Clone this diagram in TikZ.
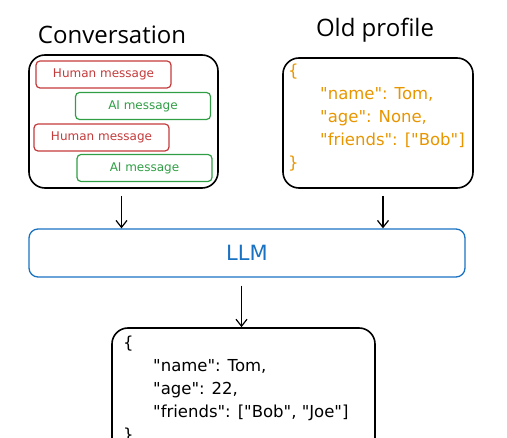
\documentclass[tikz,border=0pt]{standalone}
\usepackage{fontspec}
\setmainfont{Open Sans}
\newfontfamily\handfont{DejaVu Sans}
\usepackage{xcolor}
\usepackage{tikz}
\usetikzlibrary{arrows.meta}
\definecolor{humanred}{RGB}{196,58,58}
\definecolor{aigreen}{RGB}{47,158,68}
\definecolor{jsonorange}{RGB}{232,150,0}
\definecolor{llmblue}{RGB}{25,113,194}

\begin{document}
\begin{tikzpicture}[x=1pt,y=-1pt,
  box/.style={draw, line width=1.6pt, rounded corners=16pt},
  msg/.style={draw, line width=1.2pt, rounded corners=4pt, minimum width=135pt, minimum height=27pt, font=\handfont\fontsize{12}{14}\selectfont},
  human/.style={msg, humanred, text=humanred},
  ai/.style={msg, aigreen, text=aigreen},
  title/.style={font=\fontsize{24}{28}\selectfont},
  json/.style={align=left, anchor=north west, inner sep=0pt, font=\handfont\fontsize{16.5}{23}\selectfont},
  flow/.style={-{Straight Barb[length=7pt,width=11pt]}, line width=1.2pt}]
\useasboundingbox (0,0) rectangle (507,438);
\clip (0,0) rectangle (507,438);

% titles
\node[title] (convtitle) at (112,35) {Conversation};
\node[title] (oldtitle) at (375,30) {Old profile};

% conversation
\node[box, minimum width=189pt, minimum height=133pt] (conv) at (123.5,121.5) {};
\node[human] (human1) at (103.5,74.5) {Human message};
\node[ai] (ai1) at (143,106) {AI message};
\node[human] (human2) at (101.5,137.5) {Human message};
\node[ai] (ai2) at (144.5,168) {AI message};

% old profile
\node[box, minimum width=190pt, minimum height=130pt] (old) at (378,123) {};
\node[json, text=jsonorange] (oldjson) at (288,64) {\{\\
\hspace*{32pt}"name": Tom,\\
\hspace*{32pt}"age": None,\\
\hspace*{32pt}"friends": ["Bob"]\\
\}};

% model
\node[draw=llmblue, line width=1.3pt, rounded corners=9pt, minimum width=436pt, minimum height=48pt,
  text=llmblue, font=\handfont\fontsize{21}{24}\selectfont] (llm) at (247,253) {LLM};

% new profile
\node[box, minimum width=263pt, minimum height=130pt] (new) at (243.5,393) {};
\node[json] (newjson) at (123,336) {\{\\
\hspace*{30pt}"name": Tom,\\
\hspace*{30pt}"age": 22,\\
\hspace*{30pt}"friends": ["Bob", "Joe"]\\
\}};

\draw[flow, shorten <=7pt] ([xshift=-2pt]conv.south) -- ([xshift=-2pt]conv.south |- llm.north);
\draw[flow, shorten <=7pt] ([xshift=5pt]old.south) -- ([xshift=5pt]old.south |- llm.north);
\draw[flow, shorten <=8pt] ([xshift=-2pt]llm.south -| new.north) -- ([xshift=-2pt]new.north);
\end{tikzpicture}
\end{document}
